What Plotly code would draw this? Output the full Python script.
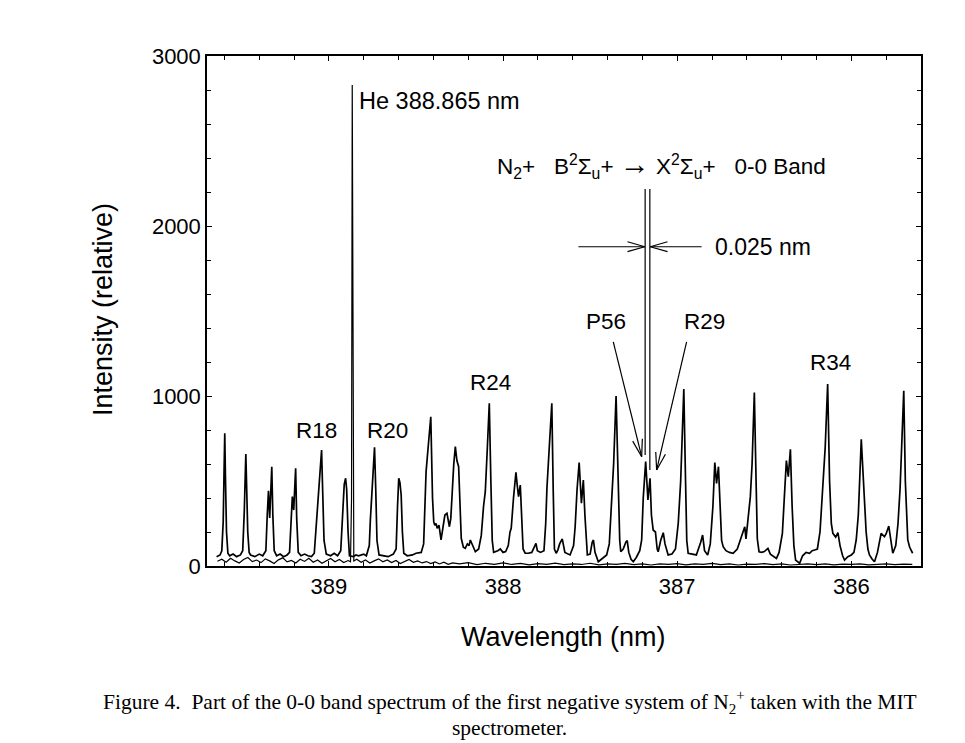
import math
import plotly.graph_objects as go

# main N2+ band trace (wavelength nm, relative intensity)
main_wl = [
    389.645, 389.625, 389.615, 389.607, 389.602, 389.598, 389.594, 389.588, 389.580, 389.570,
    389.550, 389.530, 389.508, 389.495, 389.486, 389.481, 389.477, 389.472, 389.466, 389.458,
    389.450, 389.425, 389.400, 389.380, 389.362, 389.354, 389.347, 389.340, 389.333, 389.328,
    389.322, 389.314, 389.300, 389.280, 389.260, 389.240, 389.226, 389.216, 389.210, 389.202,
    389.196, 389.191, 389.185, 389.176, 389.160, 389.140, 389.120, 389.100, 389.084, 389.072,
    389.066, 389.055, 389.042, 389.036, 389.028, 389.015, 388.990, 388.970, 388.950, 388.932,
    388.922, 388.912, 388.904, 388.898, 388.890, 388.882, 388.860, 388.845, 388.830, 388.800,
    388.785, 388.768, 388.762, 388.747, 388.738, 388.731, 388.724, 388.712, 388.690, 388.660,
    388.630, 388.614, 388.606, 388.599, 388.592, 388.585, 388.578, 388.570, 388.550, 388.520,
    388.500, 388.470, 388.456, 388.447, 388.442, 388.430, 388.415, 388.405, 388.398, 388.392,
    388.385, 388.378, 388.368, 388.356, 388.345, 388.334, 388.322, 388.308, 388.300, 388.292,
    388.283, 388.274, 388.265, 388.255, 388.248, 388.240, 388.228, 388.217, 388.205, 388.195,
    388.188, 388.175, 388.159, 388.140, 388.125, 388.112, 388.102, 388.090, 388.079, 388.070,
    388.062, 388.054, 388.040, 388.030, 388.016, 388.000, 387.985, 387.970, 387.960, 387.953,
    387.940, 387.926, 387.918, 387.911, 387.901, 387.893, 387.885, 387.873, 387.855, 387.835,
    387.818, 387.811, 387.803, 387.785, 387.765, 387.755, 387.748, 387.735, 387.720, 387.712,
    387.705, 387.695, 387.685, 387.675, 387.660, 387.645, 387.615, 387.595, 387.586, 387.575,
    387.563, 387.550, 387.539, 387.530, 387.522, 387.516, 387.500, 387.488, 387.481, 387.472,
    387.453, 387.430, 387.405, 387.390, 387.376, 387.365, 387.351, 387.340, 387.330, 387.324,
    387.310, 387.295, 387.287, 387.278, 387.265, 387.252, 387.235, 387.215, 387.204, 387.195,
    387.181, 387.168, 387.156, 387.148, 387.138, 387.125, 387.115, 387.109, 387.095, 387.080,
    387.070, 387.052, 387.030, 387.010, 386.994, 386.980, 386.962, 386.952, 386.945, 386.937,
    386.915, 386.890, 386.865, 386.854, 386.843, 386.825, 386.810, 386.795, 386.784, 386.774,
    386.763, 386.752, 386.745, 386.736, 386.720, 386.700, 386.679, 386.655, 386.620, 386.612,
    386.605, 386.595, 386.580, 386.570, 386.557, 386.547, 386.540, 386.530, 386.515, 386.500,
    386.479, 386.465, 386.443, 386.430, 386.415, 386.396, 386.385, 386.373, 386.362, 386.350,
    386.340, 386.330, 386.320, 386.297, 386.280, 386.260, 386.240, 386.225, 386.211, 386.195,
    386.180, 386.163, 386.150, 386.136, 386.125, 386.115, 386.106, 386.090, 386.077, 386.065,
    386.050, 386.039, 386.020, 386.000, 385.985, 385.972, 385.960, 385.943, 385.935, 385.924,
    385.915, 385.905, 385.896, 385.880, 385.867, 385.850, 385.838, 385.829, 385.810, 385.800,
    385.785, 385.775, 385.762, 385.745, 385.732, 385.720, 385.710, 385.699, 385.690, 385.682,
    385.676, 385.665, 385.648,
]
main_int = [
    55, 65, 90, 260, 560, 781, 520, 200, 75, 60,
    70, 55, 65, 90, 320, 520, 659, 450, 200, 80,
    65, 55, 70, 60, 90, 300, 443, 282, 450, 584,
    300, 90, 60, 70, 55, 65, 80, 300, 408, 329,
    450, 575, 280, 80, 60, 70, 60, 55, 75, 250,
    310, 450, 682, 450, 150, 70, 60, 75, 60, 90,
    300, 480, 516, 450, 200, 60, 55, 65, 60, 70,
    60, 120, 270, 500, 698, 450, 150, 65, 60, 55,
    70, 100, 350, 516, 490, 418, 200, 75, 60, 65,
    75, 80, 130, 450, 555, 700, 878, 400, 261, 240,
    250, 222, 240, 153, 230, 300, 310, 231, 280, 450,
    600, 702, 620, 584, 350, 163, 110, 104, 130, 120,
    153, 124, 84, 100, 180, 350, 437, 700, 957, 500,
    150, 80, 85, 90, 100, 80, 85, 120, 200, 222,
    400, 551, 470, 408, 476, 250, 100, 75, 75, 80,
    120, 133, 90, 80, 90, 250, 457, 700, 957, 450,
    100, 75, 95, 130, 160, 80, 65, 120, 231, 450,
    608, 369, 506, 300, 130, 65, 70, 140, 153, 80,
    25, 45, 65, 130, 418, 600, 1000, 500, 150, 84,
    100, 140, 149, 80, 40, 25, 50, 90, 153, 400,
    614, 388, 516, 300, 212, 200, 100, 84, 150, 196,
    130, 65, 70, 100, 251, 500, 1041, 500, 150, 75,
    70, 65, 140, 182, 90, 65, 130, 350, 608, 486,
    584, 300, 150, 114, 90, 80, 75, 100, 200, 231,
    160, 250, 408, 600, 1020, 500, 160, 84, 80, 85,
    104, 70, 55, 45, 80, 192, 400, 620, 525, 686,
    350, 120, 35, 16, 60, 80, 75, 90, 94, 100,
    200, 467, 700, 1071, 500, 250, 192, 170, 196, 120,
    60, 35, 55, 65, 80, 153, 300, 745, 600, 369,
    200, 100, 65, 40, 25, 80, 150, 192, 173, 190,
    235, 150, 75, 120, 250, 457, 700, 1031, 500, 250,
    153, 110, 75,
]

# lower trace (He reference lamp)
he_wl = [
    389.640, 389.615, 389.590, 389.565, 389.540, 389.515, 389.490, 389.465, 389.440, 389.415,
    389.390, 389.365, 389.340, 389.315, 389.290, 389.265, 389.240, 389.215, 389.190, 389.165,
    389.140, 389.115, 389.090, 389.065, 389.040, 389.015, 388.990, 388.965, 388.940, 388.915,
    388.890, 388.876, 388.870, 388.866, 388.862, 388.857, 388.840, 388.815, 388.790, 388.765,
    388.740, 388.715, 388.690, 388.665, 388.640, 388.615, 388.590, 388.565, 388.540, 388.515,
    388.490, 388.465, 388.440, 388.415, 388.390, 388.365, 388.340, 388.315, 388.290, 388.250,
    388.200, 388.150, 388.100, 388.050, 388.000, 387.950, 387.900, 387.850, 387.800, 387.750,
    387.700, 387.650, 387.600, 387.550, 387.500, 387.450, 387.400, 387.350, 387.300, 387.250,
    387.200, 387.150, 387.100, 387.050, 387.000, 386.950, 386.900, 386.850, 386.800, 386.750,
    386.700, 386.650, 386.600, 386.550, 386.500, 386.450, 386.400, 386.350, 386.300, 386.250,
    386.200, 386.150, 386.100, 386.050, 386.000, 385.950, 385.900, 385.850, 385.800, 385.750,
    385.700, 385.650,
]
he_int = [
    28, 40, 22, 45, 30, 18, 38, 50, 26, 35,
    20, 42, 30, 15, 36, 48, 24, 33, 18, 40,
    27, 45, 22, 35, 16, 30, 44, 25, 38, 20,
    32, 25, 400, 2830, 600, 30, 40, 22, 35, 18,
    30, 42, 25, 36, 20, 33, 15, 28, 38, 22,
    30, 18, 26, 14, 24, 12, 22, 10, 18, 12,
    20, 8, 16, 10, 18, 9, 15, 7, 14, 10,
    17, 8, 13, 9, 16, 7, 12, 10, 15, 8,
    13, 6, 12, 9, 14, 7, 12, 10, 15, 8,
    13, 6, 11, 9, 14, 8, 12, 6, 10, 13,
    8, 12, 7, 11, 9, 13, 7, 10, 12, 8,
    11, 9,
]

# line labels: (text, wavelength, intensity)
peak_labels = [
    ("R18", 389.073, 800),
    ("R20", 388.666, 800),
    ("R24", 388.073, 1078),
    ("R34", 386.119, 1200),
    ("P56", 387.409, 1437),
    ("R29", 386.841, 1437),
]

X0, X1 = 389.7, 385.6
Y0, Y1 = 0, 3000
W, H = 965, 743
OFF = 8                      # page body margin in the browser
SL, SR, ST, SB = 207, 921, 56, 566   # plot box as seen on screen
PW, PH = SR - SL, SB - ST
FONT = "Arial, Liberation Sans, sans-serif"


def to_px(x, y):
    return (X0 - x) / (X0 - X1) * PW, (y - Y0) / (Y1 - Y0) * PH


def from_px(px, py):
    return X0 - px / PW * (X0 - X1), Y0 + py / PH * (Y1 - Y0)


def paper(px, py):
    return (px - SL) / PW, (SB - py) / PH


def seg(x0, y0, x1, y1):
    return dict(type="line", xref="x", yref="y", x0=x0, y0=y0, x1=x1, y1=y1,
                line=dict(color="black", width=1.2))


def arrow(tail, tip, head_len=18, half_angle=16):
    # shaft plus an open V head, head drawn in pixel space so it looks right
    tx, ty = to_px(*tail)
    hx, hy = to_px(*tip)
    ang = math.atan2(ty - hy, tx - hx)
    out = [seg(tail[0], tail[1], tip[0], tip[1])]
    for s in (1, -1):
        a = ang + s * math.radians(half_angle)
        ex, ey = from_px(hx + head_len * math.cos(a), hy + head_len * math.sin(a))
        out.append(seg(tip[0], tip[1], ex, ey))
    return out


def paper_text(text, px, py, font, angle=0):
    x, y = paper(px, py)
    return dict(x=x, y=y, xref="paper", yref="paper", text=text, showarrow=False,
                xanchor="center", yanchor="middle", textangle=angle, font=font)


fig = go.Figure()
fig.add_trace(go.Scatter(x=he_wl, y=he_int, mode="lines",
                         line=dict(color="black", width=1.2), showlegend=False))
fig.add_trace(go.Scatter(x=main_wl, y=main_int, mode="lines",
                         line=dict(color="black", width=1.7), showlegend=False))

shapes = []
# 0.025 nm pair of lines
shapes.append(seg(387.184, 2218, 387.184, 653))
shapes.append(seg(387.157, 2218, 387.157, 565))
shapes += arrow((387.567, 1878), (387.186, 1878))
shapes += arrow((386.860, 1878), (387.155, 1878))
shapes += arrow((387.367, 1319), (387.204, 643))
shapes += arrow((386.946, 1319), (387.118, 565))

annotations = []
for txt, wl, inten in peak_labels:
    annotations.append(dict(x=wl, y=inten, xref="x", yref="y", text=txt, showarrow=False,
                            font=dict(family=FONT, size=22.5, color="black")))
annotations.append(dict(x=388.836, y=2735, xref="x", yref="y", text="He 388.865 nm",
                        xanchor="left", showarrow=False,
                        font=dict(family=FONT, size=23.5, color="black")))
annotations.append(dict(x=388.045, y=2359, xref="x", yref="y",
                        text="N<sub>2</sub>+ &nbsp; B<sup>2</sup>Σ<sub>u</sub>+ "
                             "<span style='font-size:30px'>→</span> "
                             "X<sup>2</sup>Σ<sub>u</sub>+ &nbsp; 0-0 Band",
                        xanchor="left", showarrow=False,
                        font=dict(family=FONT, size=22.5, color="black")))
annotations.append(dict(x=386.794, y=1878, xref="x", yref="y", text="0.025 nm",
                        xanchor="left", showarrow=False,
                        font=dict(family=FONT, size=23, color="black")))
# axis titles
title_font = dict(family=FONT, size=27, color="black")
annotations.append(paper_text("Wavelength (nm)", 563.5, 637, title_font))
annotations.append(paper_text("Intensity (relative)", 103, 310, title_font, angle=-90))
# caption
cap_font = dict(family="Times New Roman, Liberation Serif, serif", size=21.5, color="black")
annotations.append(paper_text("Figure 4.&nbsp; Part of the 0-0 band spectrum of the first negative "
                              "system of N<sub>2</sub><sup>+</sup> taken with the MIT",
                              509.5, 702, cap_font))
annotations.append(paper_text("spectrometer.", 509.5, 728, cap_font))

axis_common = dict(showline=True, linecolor="black", linewidth=1.5, mirror="ticks",
                   ticks="inside", ticklen=5, tickcolor="black", tickwidth=1,
                   showgrid=False, zeroline=False,
                   tickfont=dict(family=FONT, size=22, color="black"))

fig.update_layout(
    width=W, height=H,
    margin=dict(l=SL - OFF, r=W - SR + OFF, t=ST - OFF, b=H - SB + OFF),
    paper_bgcolor="white", plot_bgcolor="white",
    xaxis=dict(range=[X0, X1], tickvals=[389, 388, 387, 386],
               minor=dict(dtick=0.2, ticks="inside", ticklen=4, tickcolor="black"),
               **axis_common),
    yaxis=dict(range=[Y0, Y1], tickvals=[0, 1000, 2000, 3000],
               minor=dict(dtick=200, ticks="inside", ticklen=4, tickcolor="black"),
               **axis_common),
    shapes=shapes,
    annotations=annotations,
)

fig.write_html("out.html")
